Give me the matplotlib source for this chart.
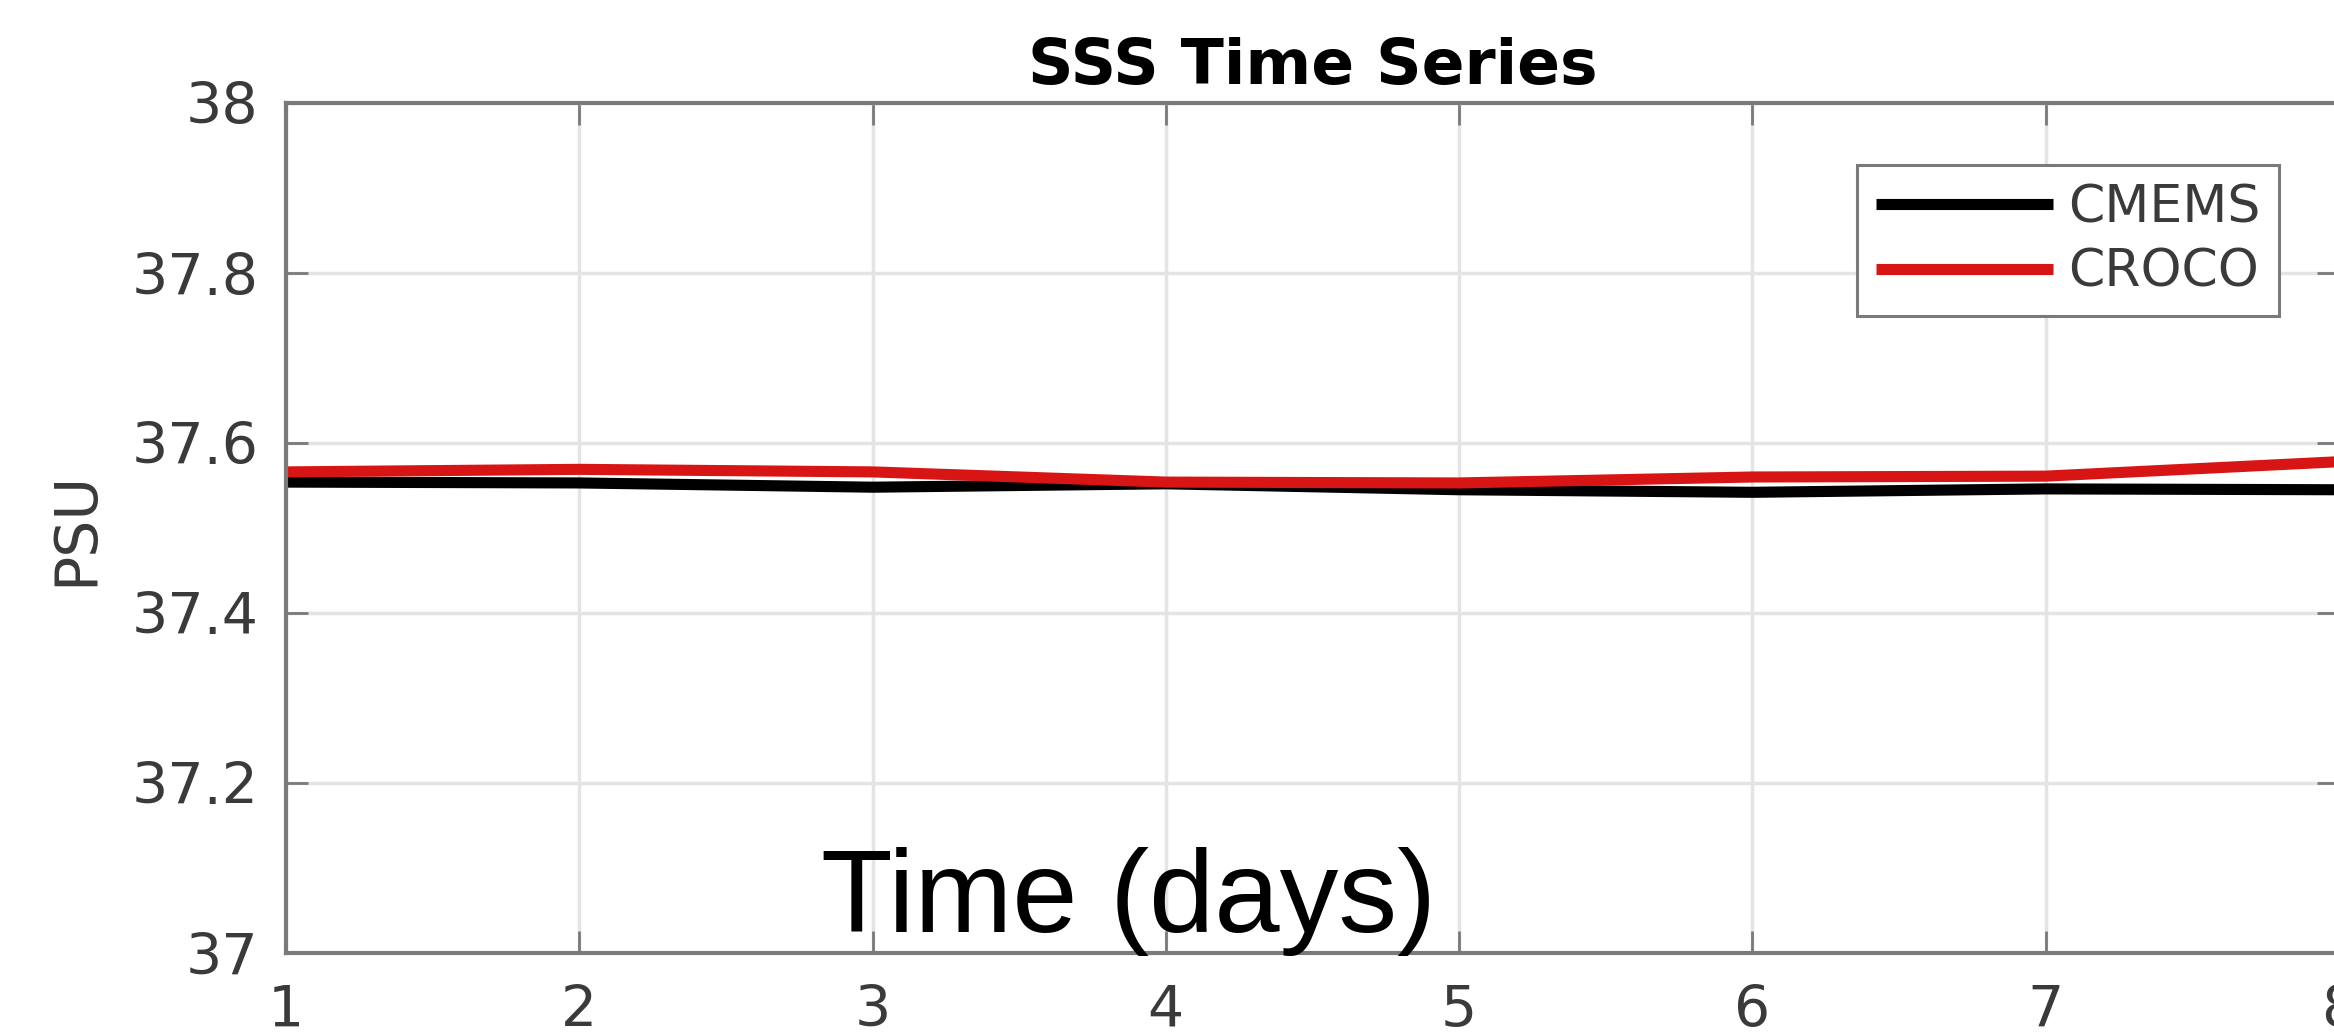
import matplotlib
matplotlib.use('Agg')
import matplotlib.pyplot as plt

# daily sea surface salinity
days = [1, 2, 3, 4, 5, 6, 7, 8]
cmems = [37.554, 37.553, 37.548, 37.552, 37.545, 37.542, 37.546, 37.545]
croco = [37.566, 37.569, 37.566, 37.554, 37.553, 37.560, 37.561, 37.578]
y_ticks = [37, 37.2, 37.4, 37.6, 37.8, 38]
y_tick_labels = ['37', '37.2', '37.4', '37.6', '37.8', '38']

W, H = 2334, 1032
fig = plt.figure(figsize=(W / 100, H / 100), dpi=100)
fig.patch.set_facecolor('white')

# axes run a bit past the right edge, like the cropped original
left, right, top, bottom = 286, 2339, 103, 953
ax = fig.add_axes([left / W, 1 - bottom / H, (right - left) / W, (bottom - top) / H])

ax.plot(days, cmems, color='black', lw=8, label='CMEMS', solid_capstyle='butt')
ax.plot(days, croco, color='#d81515', lw=8, label='CROCO', solid_capstyle='butt')

ax.set_xlim(1, 8)
ax.set_ylim(37, 38)
ax.set_xticks(days)
ax.set_yticks(y_ticks)
ax.set_yticklabels(y_tick_labels)

ax.grid(True, color='#e4e4e4', lw=2.5)
ax.set_axisbelow(True)
for sp in ax.spines.values():
    sp.set_color('#7a7a7a')
    sp.set_linewidth(3)

ax.tick_params(axis='both', direction='in', length=16, width=2, color='#7a7a7a',
               labelsize=41, labelcolor='#3a3a3a', top=True, right=True)
ax.tick_params(axis='x', pad=22)
ax.tick_params(axis='y', pad=20)

ax.set_title('SSS Time Series', fontsize=45.5, fontweight='bold', pad=14)

leg = ax.legend(loc='upper right', bbox_to_anchor=(2279 / W, 1 - 165 / H),
                bbox_transform=fig.transFigure, borderaxespad=0, fontsize=37.5,
                fancybox=False, framealpha=1, edgecolor='#7a7a7a',
                handlelength=3.4, handletextpad=0.3, labelspacing=0.28,
                borderpad=0.35)
leg.get_frame().set_linewidth(2.2)
for t in leg.get_texts():
    t.set_color('#3a3a3a')

fig.text(76 / W, 1 - 528 / H, 'PSU', rotation=90, ha='center', va='center',
         fontsize=42, color='#3a3a3a')
fig.text(1129 / W, 1 - 932 / H, 'Time (days)', ha='center', va='baseline',
         fontsize=84.5, family='Liberation Sans', color='black')

fig.savefig('out.png', dpi=100)
